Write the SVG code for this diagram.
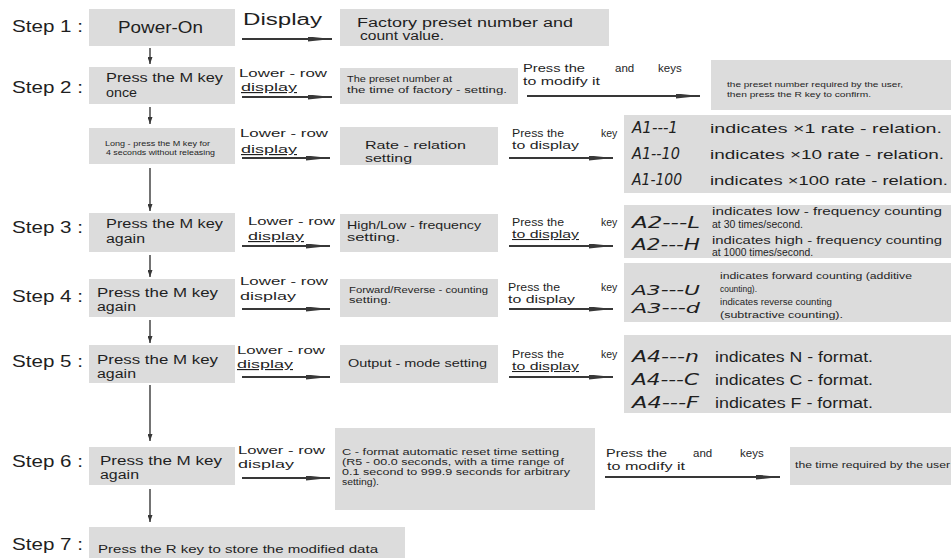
<svg xmlns="http://www.w3.org/2000/svg" width="951" height="558" viewBox="0 0 951 558">
<style>
.box{fill:#dcdcdc}
text{font-family:"Liberation Sans","DejaVu Sans",sans-serif;fill:#1f1f1f}
.seg{font-family:"DejaVu Sans",sans-serif;font-style:italic}
.u{text-decoration:underline}
.h{stroke:#383838;stroke-width:2;fill:none}
.v{stroke:#383838;stroke-width:1.4;fill:none}
</style>
<defs>
<marker id="ah" markerUnits="userSpaceOnUse" viewBox="0 0 24 5" refX="24" refY="2.5" markerWidth="24" markerHeight="5" orient="auto"><path d="M0,0 L24,2.5 L0,5 Z" fill="#383838"/></marker>
<marker id="av" markerUnits="userSpaceOnUse" viewBox="0 0 7 5" refX="7" refY="2.5" markerWidth="7" markerHeight="5" orient="auto"><path d="M0,0 L7,2.5 L0,5 Z" fill="#383838"/></marker>
</defs>

<g id="step-labels" font-size="17">
<text x="12" y="32" textLength="71" lengthAdjust="spacingAndGlyphs">Step 1 :</text>
<text x="12" y="93" textLength="71" lengthAdjust="spacingAndGlyphs">Step 2 :</text>
<text x="12" y="233" textLength="71" lengthAdjust="spacingAndGlyphs">Step 3 :</text>
<text x="12" y="302" textLength="71" lengthAdjust="spacingAndGlyphs">Step 4 :</text>
<text x="12" y="367" textLength="71" lengthAdjust="spacingAndGlyphs">Step 5 :</text>
<text x="12" y="467" textLength="71" lengthAdjust="spacingAndGlyphs">Step 6 :</text>
<text x="12" y="550" textLength="71" lengthAdjust="spacingAndGlyphs">Step 7 :</text>
</g>

<g id="n1">
<rect class="box" x="89" y="9" width="146" height="37"/>
<text x="118" y="33" font-size="17" textLength="85" lengthAdjust="spacingAndGlyphs">Power-On</text>
</g>
<g id="n1-display">
<rect class="box" x="340" y="9" width="269" height="37"/>
<text x="357" y="27" font-size="12" textLength="216" lengthAdjust="spacingAndGlyphs">Factory preset number and</text>
<text x="360" y="40" font-size="12" textLength="84" lengthAdjust="spacingAndGlyphs">count value.</text>
</g>

<g id="n2">
<rect class="box" x="89" y="67" width="146" height="37"/>
<text x="106" y="82" font-size="12.5" textLength="117" lengthAdjust="spacingAndGlyphs">Press the M key</text>
<text x="106" y="97" font-size="12.5" textLength="31" lengthAdjust="spacingAndGlyphs">once</text>
</g>
<g id="n2-display">
<rect class="box" x="340" y="68" width="178" height="36"/>
<text x="347" y="82" font-size="8.5" textLength="105" lengthAdjust="spacingAndGlyphs">The preset number at</text>
<text x="347" y="93" font-size="8.5" textLength="160" lengthAdjust="spacingAndGlyphs">the time of factory - setting.</text>
</g>
<g id="n2-user">
<rect class="box" x="711" y="60" width="240" height="50"/>
<text x="727" y="87" font-size="8" textLength="176" lengthAdjust="spacingAndGlyphs">the preset number required by the user,</text>
<text x="727" y="97" font-size="8" textLength="144" lengthAdjust="spacingAndGlyphs">then press the R key to confirm.</text>
</g>

<g id="n-long">
<rect class="box" x="89" y="128" width="146" height="36"/>
<text x="105" y="146" font-size="7" textLength="105" lengthAdjust="spacingAndGlyphs">Long - press the M key for</text>
<text x="106" y="155" font-size="7" textLength="109" lengthAdjust="spacingAndGlyphs">4 seconds without releasing</text>
</g>
<g id="n-long-display">
<rect class="box" x="340" y="127" width="158" height="38"/>
<text x="365" y="149" font-size="10.5" textLength="101" lengthAdjust="spacingAndGlyphs">Rate - relation</text>
<text x="365" y="162" font-size="10.5" textLength="47" lengthAdjust="spacingAndGlyphs">setting</text>
</g>
<g id="n-long-values">
<rect class="box" x="624" y="115" width="327" height="78"/>
<text class="seg" x="632" y="133" font-size="15" textLength="46" lengthAdjust="spacingAndGlyphs">A1---1</text>
<text class="seg" x="632" y="159" font-size="15" textLength="48" lengthAdjust="spacingAndGlyphs">A1--10</text>
<text class="seg" x="632" y="185" font-size="15" textLength="50" lengthAdjust="spacingAndGlyphs">A1-100</text>
<text x="710" y="133" font-size="13" textLength="232" lengthAdjust="spacingAndGlyphs">indicates ×1 rate - relation.</text>
<text x="710" y="159" font-size="13" textLength="234" lengthAdjust="spacingAndGlyphs">indicates ×10 rate - relation.</text>
<text x="710" y="185" font-size="13" textLength="238" lengthAdjust="spacingAndGlyphs">indicates ×100 rate - relation.</text>
</g>

<g id="n3">
<rect class="box" x="89" y="213" width="146" height="39"/>
<text x="106" y="228" font-size="12.5" textLength="117" lengthAdjust="spacingAndGlyphs">Press the M key</text>
<text x="106" y="243" font-size="12.5" textLength="39" lengthAdjust="spacingAndGlyphs">again</text>
</g>
<g id="n3-display">
<rect class="box" x="340" y="214" width="158" height="38"/>
<text x="347" y="229" font-size="10.5" textLength="134" lengthAdjust="spacingAndGlyphs">High/Low - frequency</text>
<text x="347" y="241" font-size="10.5" textLength="53" lengthAdjust="spacingAndGlyphs">setting.</text>
</g>
<g id="n3-values">
<rect class="box" x="624" y="205" width="327" height="53"/>
<text class="seg" x="632" y="228" font-size="15" textLength="68" lengthAdjust="spacingAndGlyphs">A2---L</text>
<text class="seg" x="632" y="250" font-size="15" textLength="68" lengthAdjust="spacingAndGlyphs">A2---H</text>
<text x="712" y="215" font-size="10.5" textLength="230" lengthAdjust="spacingAndGlyphs">indicates low - frequency counting</text>
<text x="712" y="228" font-size="10.5" textLength="91" lengthAdjust="spacingAndGlyphs">at 30 times/second.</text>
<text x="712" y="244" font-size="10.5" textLength="230" lengthAdjust="spacingAndGlyphs">indicates high - frequency counting</text>
<text x="712" y="256" font-size="10.5" textLength="101" lengthAdjust="spacingAndGlyphs">at 1000 times/second.</text>
</g>

<g id="n4">
<rect class="box" x="89" y="279" width="146" height="38"/>
<text x="97" y="297" font-size="12.5" textLength="121" lengthAdjust="spacingAndGlyphs">Press the M key</text>
<text x="97" y="311" font-size="12.5" textLength="39" lengthAdjust="spacingAndGlyphs">again</text>
</g>
<g id="n4-display">
<rect class="box" x="340" y="279" width="158" height="38"/>
<text x="349" y="293" font-size="8.5" textLength="139" lengthAdjust="spacingAndGlyphs">Forward/Reverse - counting</text>
<text x="349" y="303" font-size="8.5" textLength="42" lengthAdjust="spacingAndGlyphs">setting.</text>
</g>
<g id="n4-values">
<rect class="box" x="624" y="263" width="327" height="59"/>
<text class="seg" x="632" y="295" font-size="14" textLength="68" lengthAdjust="spacingAndGlyphs">A3---U</text>
<text class="seg" x="632" y="313" font-size="14" textLength="68" lengthAdjust="spacingAndGlyphs">A3---d</text>
<text x="720" y="279" font-size="8.5" textLength="192" lengthAdjust="spacingAndGlyphs">indicates forward counting (additive</text>
<text x="720" y="292" font-size="8.5" textLength="37" lengthAdjust="spacingAndGlyphs">counting).</text>
<text x="720" y="305" font-size="8.5" textLength="112" lengthAdjust="spacingAndGlyphs">indicates reverse counting</text>
<text x="720" y="318" font-size="8.5" textLength="123" lengthAdjust="spacingAndGlyphs">(subtractive counting).</text>
</g>

<g id="n5">
<rect class="box" x="89" y="345" width="146" height="38"/>
<text x="97" y="364" font-size="12.5" textLength="121" lengthAdjust="spacingAndGlyphs">Press the M key</text>
<text x="97" y="378" font-size="12.5" textLength="39" lengthAdjust="spacingAndGlyphs">again</text>
</g>
<g id="n5-display">
<rect class="box" x="340" y="345" width="158" height="38"/>
<text x="348" y="367" font-size="11" textLength="139" lengthAdjust="spacingAndGlyphs">Output - mode setting</text>
</g>
<g id="n5-values">
<rect class="box" x="624" y="335" width="327" height="78"/>
<text class="seg" x="632" y="362" font-size="15" textLength="67" lengthAdjust="spacingAndGlyphs">A4---n</text>
<text class="seg" x="632" y="385" font-size="15" textLength="67" lengthAdjust="spacingAndGlyphs">A4---C</text>
<text class="seg" x="632" y="408" font-size="15" textLength="67" lengthAdjust="spacingAndGlyphs">A4---F</text>
<text x="715" y="362" font-size="14" textLength="158" lengthAdjust="spacingAndGlyphs">indicates N - format.</text>
<text x="715" y="385" font-size="14" textLength="158" lengthAdjust="spacingAndGlyphs">indicates C - format.</text>
<text x="715" y="408" font-size="14" textLength="158" lengthAdjust="spacingAndGlyphs">indicates F - format.</text>
</g>

<g id="n6">
<rect class="box" x="89" y="447" width="146" height="38"/>
<text x="100" y="465" font-size="12.5" textLength="122" lengthAdjust="spacingAndGlyphs">Press the M key</text>
<text x="100" y="479" font-size="12.5" textLength="39" lengthAdjust="spacingAndGlyphs">again</text>
</g>
<g id="n6-display">
<rect class="box" x="335" y="428" width="260" height="82"/>
<text x="342" y="455" font-size="8.5" textLength="217" lengthAdjust="spacingAndGlyphs">C - format automatic reset time setting</text>
<text x="342" y="465" font-size="8.5" textLength="222" lengthAdjust="spacingAndGlyphs">(R5 - 00.0 seconds, with a time range of</text>
<text x="342" y="475" font-size="8.5" textLength="228" lengthAdjust="spacingAndGlyphs">0.1 second to 999.9 seconds for arbitrary</text>
<text x="342" y="485" font-size="8.5" textLength="37" lengthAdjust="spacingAndGlyphs">setting).</text>
</g>
<g id="n6-user">
<rect class="box" x="790" y="447" width="161" height="38"/>
<text x="795" y="468" font-size="9" textLength="155" lengthAdjust="spacingAndGlyphs">the time required by the user</text>
</g>

<g id="n7">
<rect class="box" x="89" y="527" width="316" height="35"/>
<text x="98" y="553" font-size="11.5" textLength="280" lengthAdjust="spacingAndGlyphs">Press the R key to store the modified data</text>
</g>

<g id="connectors">
<line class="v" x1="150" y1="48" x2="150" y2="64" marker-end="url(#av)"/>
<line class="v" x1="150" y1="107" x2="150" y2="124" marker-end="url(#av)"/>
<line class="v" x1="150" y1="168" x2="150" y2="211" marker-end="url(#av)"/>
<line class="v" x1="150" y1="255" x2="150" y2="277" marker-end="url(#av)"/>
<line class="v" x1="150" y1="320" x2="150" y2="343" marker-end="url(#av)"/>
<line class="v" x1="150" y1="385" x2="150" y2="441" marker-end="url(#av)"/>
<line class="v" x1="150" y1="489" x2="150" y2="522" marker-end="url(#av)"/>

<line class="h" x1="242" y1="39" x2="332" y2="39" marker-end="url(#ah)"/>
<line class="h" x1="242" y1="97" x2="332" y2="97" marker-end="url(#ah)"/>
<line class="h" x1="242" y1="158" x2="330" y2="158" marker-end="url(#ah)"/>
<line class="h" x1="242" y1="246" x2="330" y2="246" marker-end="url(#ah)"/>
<line class="h" x1="242" y1="309" x2="330" y2="309" marker-end="url(#ah)"/>
<line class="h" x1="242" y1="377" x2="330" y2="377" marker-end="url(#ah)"/>
<line class="h" x1="242" y1="478" x2="330" y2="478" marker-end="url(#ah)"/>

<line class="h" x1="527" y1="96" x2="700" y2="96" marker-end="url(#ah)"/>
<line class="h" x1="509" y1="158" x2="613" y2="158" marker-end="url(#ah)"/>
<line class="h" x1="509" y1="246" x2="613" y2="246" marker-end="url(#ah)"/>
<line class="h" x1="509" y1="309" x2="613" y2="309" marker-end="url(#ah)"/>
<line class="h" x1="509" y1="377" x2="613" y2="377" marker-end="url(#ah)"/>
<line class="h" x1="605" y1="477" x2="780" y2="477" marker-end="url(#ah)"/>

<text x="243" y="25" font-size="16" textLength="79" lengthAdjust="spacingAndGlyphs">Display</text>

<text x="239" y="77" font-size="11.5" textLength="88" lengthAdjust="spacingAndGlyphs">Lower - row</text>
<text class="u" x="241" y="91" font-size="11.5" textLength="56" lengthAdjust="spacingAndGlyphs">display</text>
<text x="240" y="137" font-size="11.5" textLength="88" lengthAdjust="spacingAndGlyphs">Lower - row</text>
<text class="u" x="241" y="153" font-size="11.5" textLength="56" lengthAdjust="spacingAndGlyphs">display</text>
<text x="248" y="225" font-size="11.5" textLength="87" lengthAdjust="spacingAndGlyphs">Lower - row</text>
<text class="u" x="248" y="240" font-size="11.5" textLength="56" lengthAdjust="spacingAndGlyphs">display</text>
<text x="240" y="285" font-size="11.5" textLength="88" lengthAdjust="spacingAndGlyphs">Lower - row</text>
<text x="240" y="300" font-size="11.5" textLength="56" lengthAdjust="spacingAndGlyphs">display</text>
<text x="237" y="354" font-size="11.5" textLength="88" lengthAdjust="spacingAndGlyphs">Lower - row</text>
<text class="u" x="237" y="368" font-size="11.5" textLength="56" lengthAdjust="spacingAndGlyphs">display</text>
<text x="238" y="454" font-size="11.5" textLength="87" lengthAdjust="spacingAndGlyphs">Lower - row</text>
<text x="238" y="468" font-size="11.5" textLength="56" lengthAdjust="spacingAndGlyphs">display</text>

<text x="523" y="72" font-size="11.5" textLength="62" lengthAdjust="spacingAndGlyphs">Press the</text>
<text x="615" y="72" font-size="11.5">and</text>
<text x="658" y="72" font-size="11.5">keys</text>
<text x="523" y="85" font-size="11.5" textLength="77" lengthAdjust="spacingAndGlyphs">to modify it</text>

<text x="512" y="137" font-size="10.5" textLength="52" lengthAdjust="spacingAndGlyphs">Press the</text>
<text x="601" y="137" font-size="10.5">key</text>
<text x="512" y="149" font-size="10.5" textLength="67" lengthAdjust="spacingAndGlyphs">to display</text>

<text x="512" y="226" font-size="10.5" textLength="52" lengthAdjust="spacingAndGlyphs">Press the</text>
<text x="601" y="226" font-size="10.5">key</text>
<text class="u" x="512" y="238" font-size="10.5" textLength="67" lengthAdjust="spacingAndGlyphs">to display</text>

<text x="508" y="291" font-size="10.5" textLength="52" lengthAdjust="spacingAndGlyphs">Press the</text>
<text x="601" y="291" font-size="10.5">key</text>
<text x="508" y="303" font-size="10.5" textLength="67" lengthAdjust="spacingAndGlyphs">to display</text>

<text x="512" y="358" font-size="10.5" textLength="52" lengthAdjust="spacingAndGlyphs">Press the</text>
<text x="601" y="358" font-size="10.5">key</text>
<text class="u" x="512" y="370" font-size="10.5" textLength="67" lengthAdjust="spacingAndGlyphs">to display</text>

<text x="606" y="457" font-size="11.5" textLength="61" lengthAdjust="spacingAndGlyphs">Press the</text>
<text x="693" y="457" font-size="11.5">and</text>
<text x="740" y="457" font-size="11.5">keys</text>
<text x="607" y="470" font-size="11.5" textLength="78" lengthAdjust="spacingAndGlyphs">to modify it</text>
</g>
</svg>
